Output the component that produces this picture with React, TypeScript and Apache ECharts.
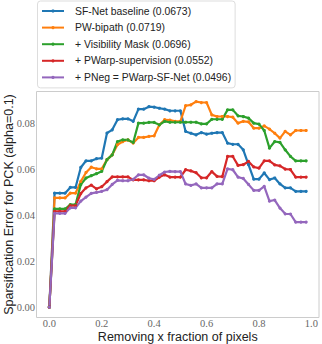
import React, { useEffect, useRef } from 'react';
import * as echarts from 'echarts';

const xFractions = [
  0, 0.02, 0.04, 0.06, 0.08, 0.1, 0.12, 0.14, 0.16, 0.18,
  0.2, 0.22, 0.24, 0.26, 0.28, 0.3, 0.32, 0.34, 0.36, 0.38,
  0.4, 0.42, 0.44, 0.46, 0.48, 0.5, 0.52, 0.54, 0.56, 0.58,
  0.6, 0.62, 0.64, 0.66, 0.68, 0.7, 0.72, 0.74, 0.76, 0.78,
  0.8, 0.82, 0.84, 0.86, 0.88, 0.9, 0.92, 0.94, 0.96, 0.98,
];

const sfNetBaseline = [
  0, 0.0497, 0.0497, 0.0497, 0.0522, 0.0522, 0.0609, 0.0638, 0.0638, 0.0647,
  0.065, 0.0759, 0.0773, 0.0817, 0.0821, 0.0821, 0.081, 0.0863, 0.0863, 0.0874,
  0.0872, 0.0867, 0.0863, 0.0856, 0.0856, 0.0856, 0.0766, 0.0758, 0.0751, 0.0761,
  0.0754, 0.0758, 0.0761, 0.0761, 0.0715, 0.071, 0.071, 0.0686, 0.0621, 0.0558,
  0.0558, 0.0585, 0.0556, 0.0563, 0.0537, 0.052, 0.052, 0.0505, 0.0505, 0.0505,
];

const pwBipath = [
  0, 0.0476, 0.0476, 0.0476, 0.0497, 0.0497, 0.0548, 0.0587, 0.061, 0.0603,
  0.0603, 0.0643, 0.0664, 0.0708, 0.0722, 0.0729, 0.0715, 0.074, 0.074, 0.0744,
  0.0747, 0.0795, 0.0817, 0.0815, 0.081, 0.081, 0.0878, 0.0882, 0.0896, 0.0892,
  0.0892, 0.0838, 0.0831, 0.0831, 0.0831, 0.0828, 0.0802, 0.081, 0.0808, 0.078,
  0.078, 0.079, 0.0776, 0.0758, 0.0737, 0.0766, 0.0751, 0.077, 0.077, 0.077,
];

const visibilityMask = [
  0, 0.0428, 0.0428, 0.0428, 0.0447, 0.0447, 0.0534, 0.0563, 0.0573, 0.0582,
  0.0592, 0.0643, 0.0664, 0.0722, 0.0729, 0.0729, 0.0718, 0.0802, 0.0802, 0.0805,
  0.0805, 0.0795, 0.081, 0.0806, 0.0806, 0.0806, 0.0806, 0.0806, 0.0806, 0.0799,
  0.0799, 0.0819, 0.0819, 0.0819, 0.086, 0.086, 0.0834, 0.0831, 0.0824, 0.0802,
  0.0798, 0.077, 0.0693, 0.0722, 0.0718, 0.0686, 0.0657, 0.0638, 0.0638, 0.0638,
];

const pwarpSupervision = [
  0, 0.0418, 0.0418, 0.0418, 0.0443, 0.0443, 0.0495, 0.052, 0.0532, 0.0516,
  0.0525, 0.0547, 0.0568, 0.0568, 0.0568, 0.0568, 0.0555, 0.0555, 0.0555, 0.0551,
  0.0551, 0.0567, 0.0577, 0.0567, 0.0567, 0.0567, 0.0599, 0.0594, 0.0586, 0.0564,
  0.0564, 0.0591, 0.057, 0.0569, 0.0657, 0.0657, 0.0618, 0.0621, 0.0635, 0.0611,
  0.0606, 0.0638, 0.0638, 0.062, 0.0616, 0.0602, 0.06, 0.0567, 0.0567, 0.0567,
];

const pNegPwarpSfNet = [
  0, 0.0409, 0.0409, 0.0409, 0.0433, 0.0433, 0.0462, 0.048, 0.0496, 0.05,
  0.0505, 0.0512, 0.0535, 0.0553, 0.0551, 0.0551, 0.0557, 0.0577, 0.0577, 0.0562,
  0.0557, 0.0575, 0.0589, 0.0592, 0.0591, 0.0591, 0.0537, 0.0531, 0.0537, 0.052,
  0.052, 0.052, 0.0537, 0.0537, 0.0603, 0.0599, 0.0567, 0.0561, 0.0535, 0.0509,
  0.0509, 0.0526, 0.0462, 0.0467, 0.0432, 0.0407, 0.0406, 0.0371, 0.0371, 0.0371,
];

const seriesNames = [
  'SF-Net baseline (0.0673)',
  'PW-bipath (0.0719)',
  '+ Visibility Mask (0.0696)',
  '+ PWarp-supervision (0.0552)',
  '+ PNeg = PWarp-SF-Net (0.0496)',
];
const seriesValues = [sfNetBaseline, pwBipath, visibilityMask, pwarpSupervision, pNegPwarpSfNet];
const seriesColors = ['#1f77b4', '#ff7f0e', '#2ca02c', '#d62728', '#9467bd'];

const xTicks = [0, 0.2, 0.4, 0.6, 0.8, 1.0];
const yTicks = [0, 0.02, 0.04, 0.06, 0.08];

export default function App() {
  const ref = useRef<HTMLDivElement>(null);
  useEffect(() => {
    if (!ref.current) return;
    const chart = echarts.init(ref.current, null, { renderer: 'svg' });
    const tickFont = { fontFamily: 'Liberation Serif', fontSize: 10.5, color: '#666' };
    chart.setOption({
      animation: false,
      backgroundColor: '#ffffff',
      grid: {
        left: 36.5,
        right: 3,
        top: 91.5,
        bottom: 26.5,
        show: true,
        borderColor: '#cccccc',
        borderWidth: 1,
        backgroundColor: 'transparent',
        containLabel: false,
        outerBoundsMode: 'none',
      },
      legend: {
        orient: 'vertical',
        left: 37.5,
        top: 1,
        padding: [3.5, 4, 4, 3.5],
        itemGap: 3.6,
        itemWidth: 22,
        itemHeight: 4,
        backgroundColor: '#ffffff',
        borderColor: '#dddddd',
        borderWidth: 1,
        borderRadius: 3,
        textStyle: {
          fontFamily: 'Liberation Sans',
          fontSize: 10.4,
          lineHeight: 13,
          color: '#222222',
          padding: [0, 0, 0, 6],
        },
        data: seriesNames,
      },
      xAxis: {
        type: 'value',
        min: -0.049,
        max: 1.029,
        name: 'Removing x fraction of pixels',
        nameLocation: 'middle',
        nameGap: 12.5,
        nameMoveOverlap: false,
        nameTextStyle: { fontFamily: 'Liberation Sans', fontSize: 12.5, color: '#222222' },
        axisLine: { show: false },
        axisTick: { show: false },
        splitLine: { show: false },
        axisLabel: {
          ...tickFont,
          margin: 0.5,
          customValues: xTicks,
          formatter: (v: number) => v.toFixed(1),
        },
      },
      yAxis: {
        type: 'value',
        min: -0.0045,
        max: 0.094,
        name: 'Sparsification Error for PCK (alpha=0.1)',
        nameLocation: 'middle',
        nameGap: 21,
        nameMoveOverlap: false,
        nameTextStyle: { fontFamily: 'Liberation Sans', fontSize: 12.5, color: '#222222' },
        axisLine: { show: false },
        axisTick: { show: false },
        splitLine: { show: false },
        axisLabel: {
          ...tickFont,
          margin: 1.5,
          customValues: yTicks,
          formatter: (v: number) => v.toFixed(2),
        },
      },
      series: seriesNames.map((name, k) => ({
        name,
        type: 'line',
        data: xFractions.map((x, i) => [x, seriesValues[k][i]]),
        symbol: 'circle',
        symbolSize: 3.2,
        showSymbol: true,
        lineStyle: { width: 2.2, color: seriesColors[k] },
        itemStyle: { color: seriesColors[k] },
        emphasis: { disabled: true },
      })),
    });
    return () => chart.dispose();
  }, []);
  return (
    <div
      ref={ref}
      style={{ position: 'absolute', left: 0, top: 0, width: 322, height: 344 }}
    />
  );
}
